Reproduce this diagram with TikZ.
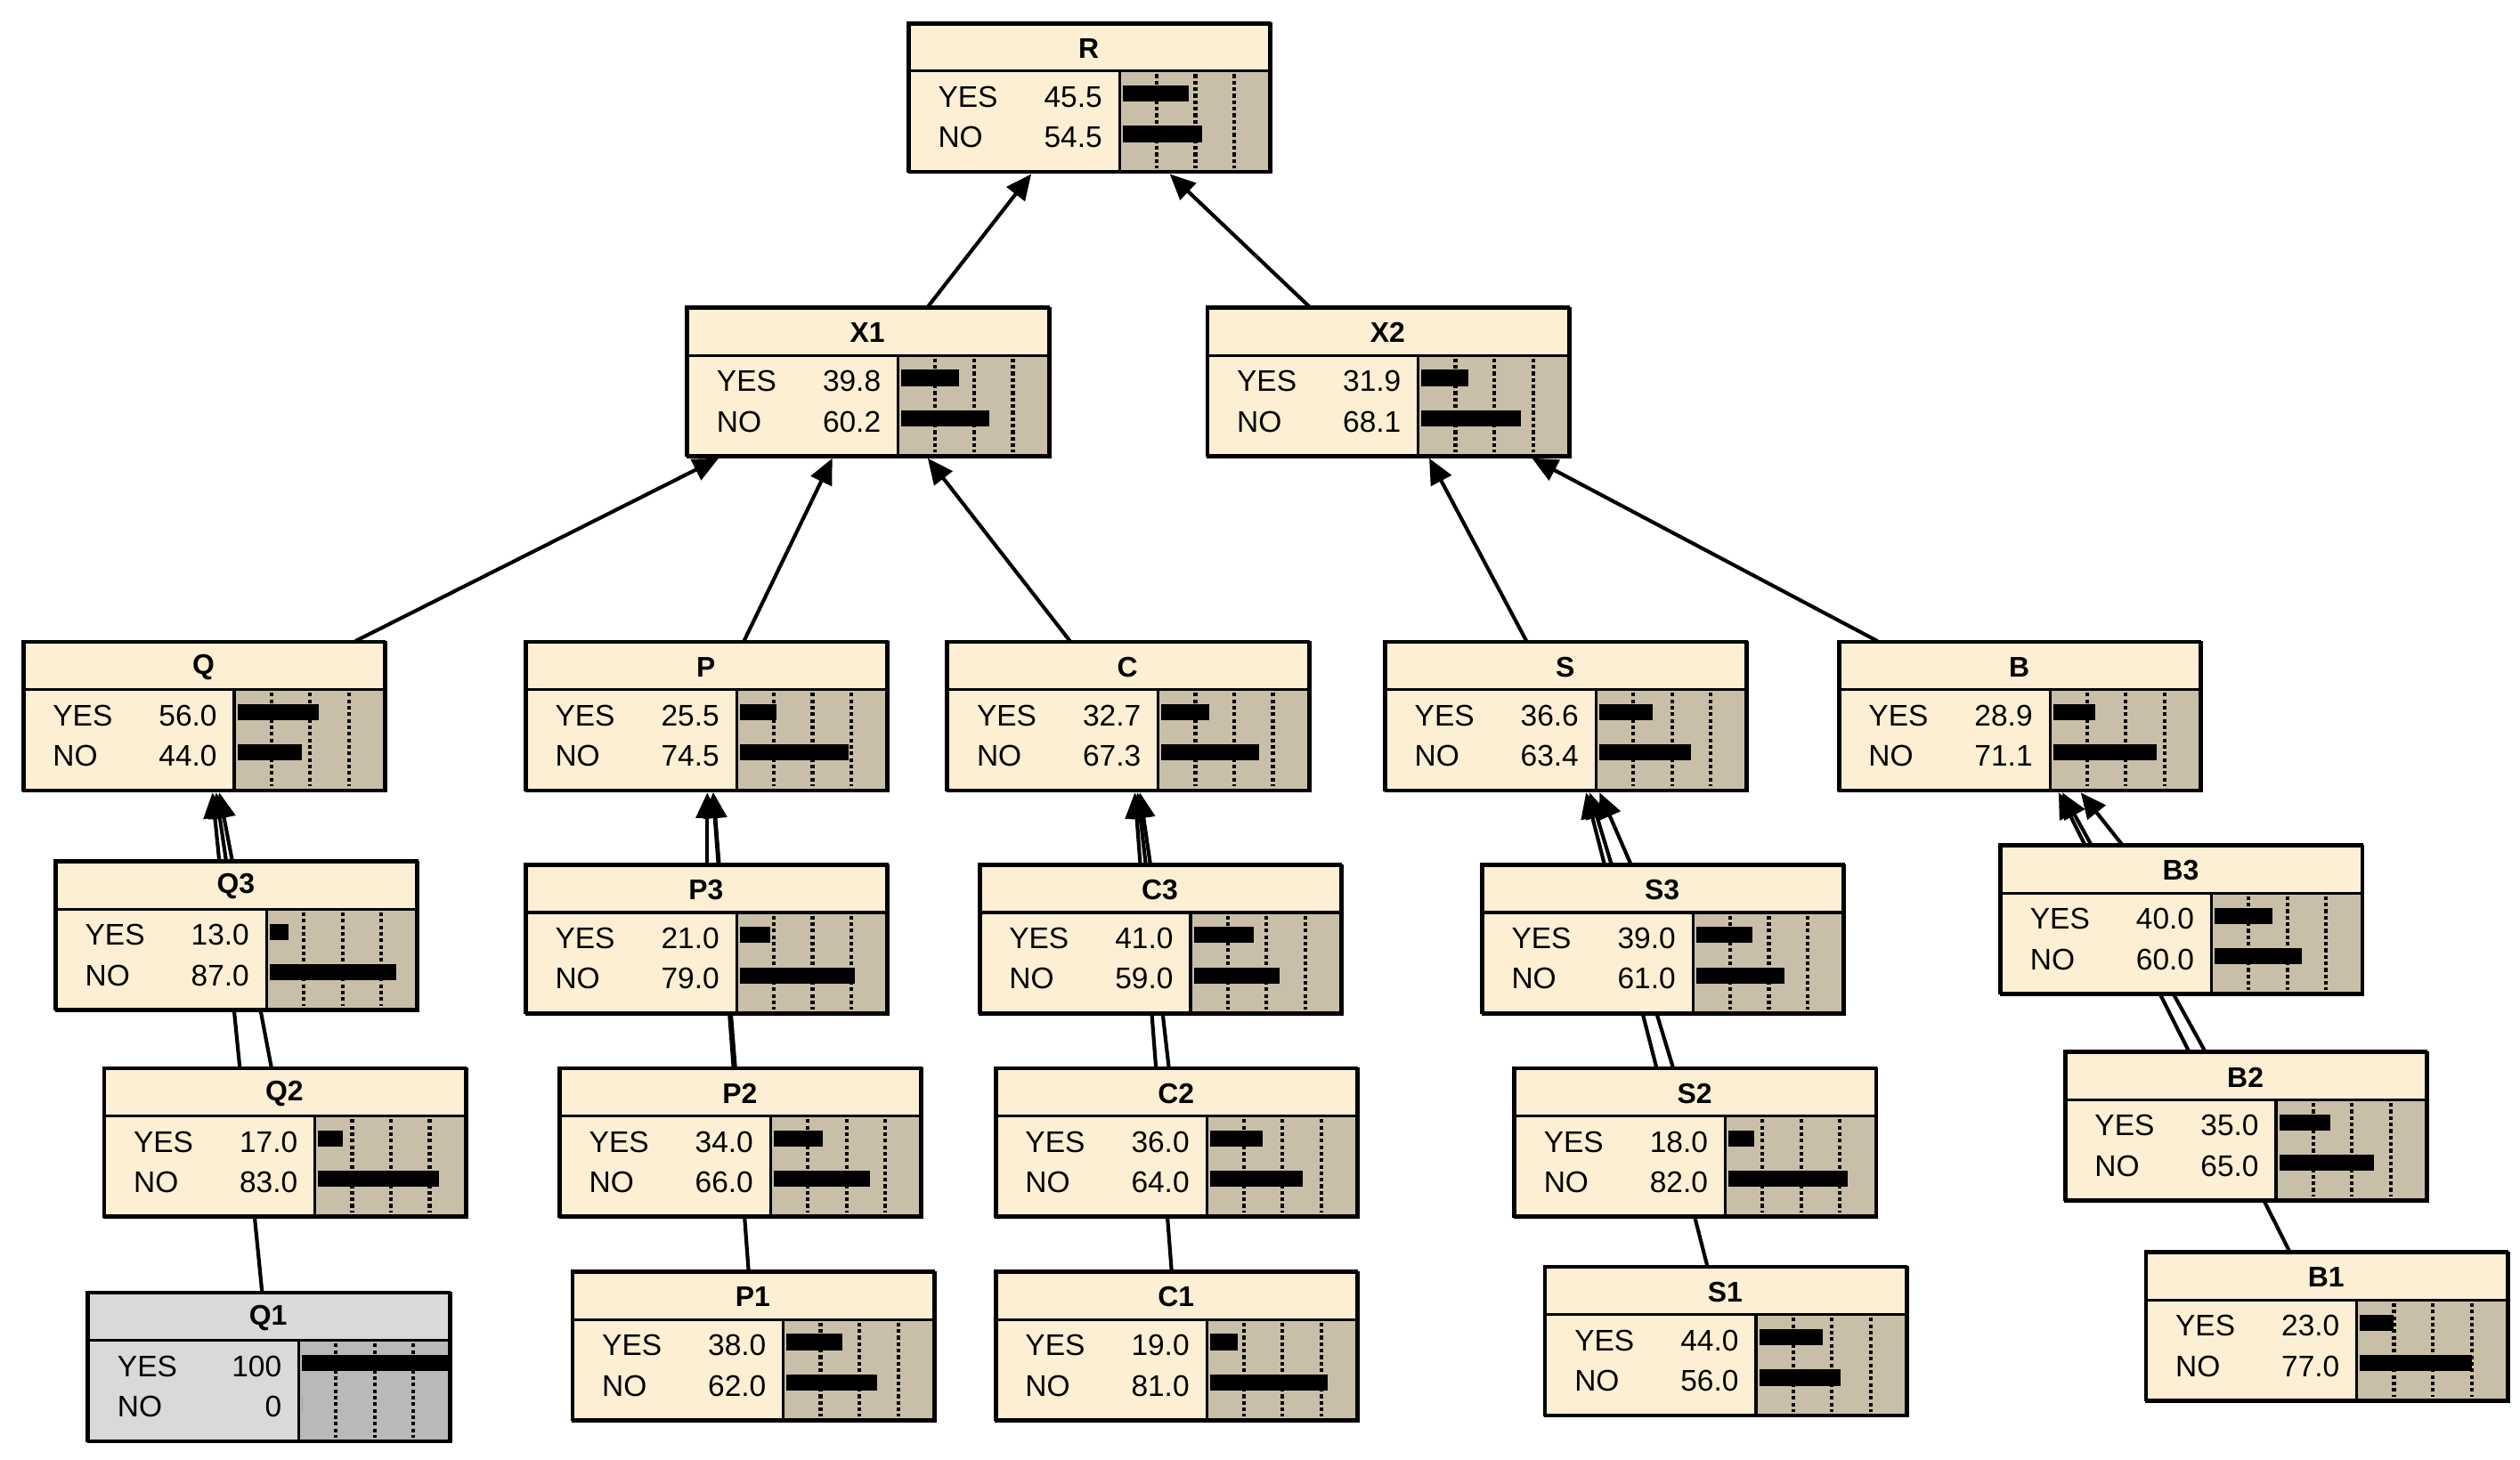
\documentclass[tikz,border=0pt]{standalone}
\usepackage{fontspec}
\setmainfont{Liberation Sans}
\usetikzlibrary{arrows.meta}
\pgfdeclarelayer{background}
\pgfsetlayers{background,main}
\definecolor{cream}{HTML}{FCEFD3}
\definecolor{tan}{HTML}{C9BFA8}
\definecolor{evid}{HTML}{D9D9D9}
\definecolor{evbar}{HTML}{B9B9B9}

% one belief node: name, left, top, title, yes, no, head colour, bar colour
\newcommand{\bnnode}[8]{%
  \node[nodebox, fill=#7] (#1) at (#2,#3) {};
  \fill[#8] (#2+131,#3+30) rectangle (#2+224,#3+92);
  \foreach \t in {23,47,71}
    \draw[densely dotted, line width=1.3pt] (#2+131+\t,#3+32) -- ++(0,58);
  \pgfmathsetmacro\ly{min(0.9*#5,91)}
  \pgfmathsetmacro\ln{min(0.9*#6,91)}
  \fill (#2+133,#3+39) rectangle ++(\ly,10);
  \fill (#2+133,#3+64) rectangle ++(\ln,10);
  \draw (#2,#3+30) -- ++(224,0);
  \draw (#2+131,#3+30) -- ++(0,62);
  \node[font=\bfseries] at (#2+112,#3+16) {#4};
  \node[anchor=west] at (#2+12,#3+46) {YES};
  \node[anchor=east] at (#2+127,#3+46) {#5};
  \node[anchor=west] at (#2+12,#3+71) {NO};
  \node[anchor=east] at (#2+127,#3+71) {#6};
  \draw (#2,#3) rectangle ++(224,92);
}

\begin{document}
\begin{tikzpicture}[x=0.2mm, y=-0.2mm, line width=1pt,
  font=\fontsize{10.5}{12}\selectfont,
  nodebox/.style={draw, anchor=north west, minimum width=44.8mm,
    minimum height=18.4mm, inner sep=0pt},
  link/.style={line width=1.3pt, -{Triangle[length=9pt,width=8pt]}}]
\useasboundingbox (0,0) rectangle (1560,903.5);

% top levels
\bnnode{R}{562}{14}{R}{45.5}{54.5}{cream}{tan}
\bnnode{X1}{425}{190}{X1}{39.8}{60.2}{cream}{tan}
\bnnode{X2}{747}{190}{X2}{31.9}{68.1}{cream}{tan}

% aggregated nodes
\bnnode{Q}{14}{397}{Q}{56.0}{44.0}{cream}{tan}
\bnnode{P}{325}{397}{P}{25.5}{74.5}{cream}{tan}
\bnnode{C}{586}{397}{C}{32.7}{67.3}{cream}{tan}
\bnnode{S}{857}{397}{S}{36.6}{63.4}{cream}{tan}
\bnnode{B}{1138}{397}{B}{28.9}{71.1}{cream}{tan}

% leaves
\bnnode{Q3}{34}{533}{Q3}{13.0}{87.0}{cream}{tan}
\bnnode{Q2}{64}{661}{Q2}{17.0}{83.0}{cream}{tan}
\bnnode{Q1}{54}{800}{Q1}{100}{0}{evid}{evbar}
\bnnode{P3}{325}{535}{P3}{21.0}{79.0}{cream}{tan}
\bnnode{P2}{346}{661}{P2}{34.0}{66.0}{cream}{tan}
\bnnode{P1}{354}{787}{P1}{38.0}{62.0}{cream}{tan}
\bnnode{C3}{606}{535}{C3}{41.0}{59.0}{cream}{tan}
\bnnode{C2}{616}{661}{C2}{36.0}{64.0}{cream}{tan}
\bnnode{C1}{616}{787}{C1}{19.0}{81.0}{cream}{tan}
\bnnode{S3}{917}{535}{S3}{39.0}{61.0}{cream}{tan}
\bnnode{S2}{937}{661}{S2}{18.0}{82.0}{cream}{tan}
\bnnode{S1}{956}{784}{S1}{44.0}{56.0}{cream}{tan}
\bnnode{B3}{1238}{523}{B3}{40.0}{60.0}{cream}{tan}
\bnnode{B2}{1278}{651}{B2}{35.0}{65.0}{cream}{tan}
\bnnode{B1}{1328}{775}{B1}{23.0}{77.0}{cream}{tan}

\begin{pgfonlayer}{background}
  \draw[link] (X1) -- (R);
  \draw[link] (X2) -- (R);
  \foreach \c in {Q,P,C} \draw[link] (\c) -- (X1);
  \foreach \c in {S,B} \draw[link] (\c) -- (X2);
  \foreach \p in {Q,P,C,S,B}
    \foreach \i in {1,2,3}
      \draw[link] (\p\i) -- (\p);
\end{pgfonlayer}
\end{tikzpicture}
\end{document}
